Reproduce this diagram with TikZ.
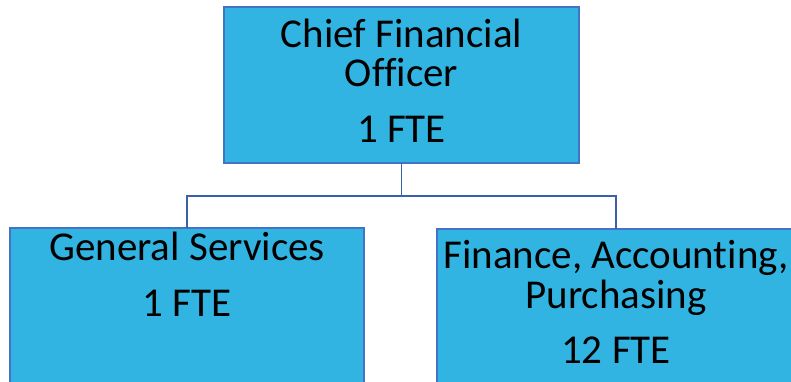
\documentclass[tikz,border=0pt]{standalone}
\usepackage{fontspec}
\setmainfont[Ligatures={CommonOff}]{Carlito}
\definecolor{boxfill}{RGB}{49,180,226}
\definecolor{boxline}{RGB}{68,114,196}
\begin{document}
\begin{tikzpicture}[x=1pt,y=-1pt,
  box/.style={draw=boxline,line width=1.5pt,fill=boxfill,inner sep=0pt,outer sep=0pt},
  conn/.style={draw=boxline!85!black,line width=1.2pt},
  txt/.style={anchor=base,inner sep=0pt,font=\fontsize{41}{48}\selectfont,text=black}]
\useasboundingbox (0,0) rectangle (791,381);
\clip (0,0) rectangle (791,381);
\node[box,minimum width=355pt,minimum height=156pt] (cfo) at (401.5,85) {};
\node[box,minimum width=354pt,minimum height=172pt] (gs) at (187,314) {};
\node[box,minimum width=358pt,minimum height=171pt] (fap) at (616,314.5) {};
\coordinate (bus) at (401.5,196);
\draw[conn] (cfo.south) -- (bus) -| (gs.north);
\draw[conn] (bus) -| (fap.north);
\node[txt] (t1) at (401.5,47) {Chief Financial};
\node[txt] (t2) at (401.5,86) {Officer};
\node[txt] (t3) at (401.5,142) {1 FTE};
\node[txt] (t4) at (187,260) {General Services};
\node[txt] (t5) at (187,316) {1 FTE};
\node[txt] (t6) at (616,268) {Finance, Accounting,};
\node[txt] (t7) at (616,308) {Purchasing};
\node[txt] (t8) at (616,363) {12 FTE};
\end{tikzpicture}
\end{document}
